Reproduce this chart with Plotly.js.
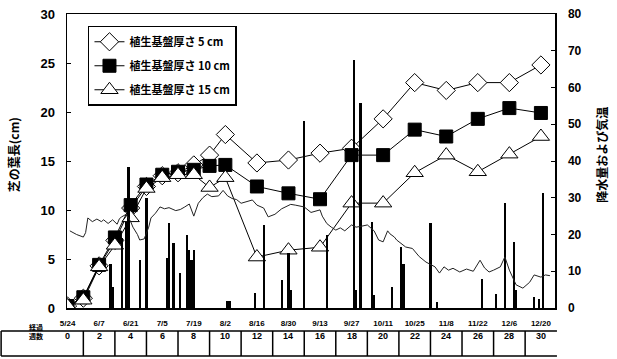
<!DOCTYPE html>
<html>
<head>
<meta charset="utf-8">
<script src="https://cdn.plot.ly/plotly-3.0.1.min.js"></script>
<style>html,body{margin:0;padding:0;background:#fff;}#chart{width:617px;height:359px;}</style>
</head>
<body>
<div id="chart"></div>
<script>
// ---- data ----
const tickDates = ['2001-05-24','2001-06-07','2001-06-21','2001-07-05','2001-07-19','2001-08-02','2001-08-16','2001-08-30','2001-09-13','2001-09-27','2001-10-11','2001-10-25','2001-11-08','2001-11-22','2001-12-06','2001-12-20'];
const tickText = ['5/24','6/7','6/21','7/5','7/19','8/2','8/16','8/30','9/13','9/27','10/11','10/25','11/8','11/22','12/6','12/20'];
const weekText = ['0','2','4','6','8','10','12','14','16','18','20','22','24','26','28','30'];
const tableHeader = '経過<br>週数';

const measureDates = ['2001-05-24','2001-05-31','2001-06-07','2001-06-14','2001-06-21','2001-06-28','2001-07-05','2001-07-12','2001-07-19','2001-07-26','2001-08-02','2001-08-16','2001-08-30','2001-09-13','2001-09-27','2001-10-11','2001-10-25','2001-11-08','2001-11-22','2001-12-06','2001-12-20'];
const len5cm  = [0.2,1.0,4.3,6.9,10.2,12.4,13.5,13.8,14.6,15.6,17.7,14.8,15.1,15.8,16.3,19.3,23.0,22.2,23.0,23.0,24.8];
const len10cm = [0.2,1.1,4.4,7.2,10.5,12.6,13.6,13.9,14.1,14.5,14.6,12.4,11.7,11.1,15.6,15.6,18.2,17.5,19.3,20.4,19.9];
const len15cm = [0.2,0.8,4.2,6.4,9.2,12.2,13.3,13.6,13.6,12.3,13.3,5.2,5.9,6.2,10.7,10.7,13.8,15.6,13.9,15.7,17.5];
const seriesNames = ['植生基盤厚さ 5 cm','植生基盤厚さ 10 cm','植生基盤厚さ 15 cm'];

const tempDates = ['2001-05-25','2001-05-28','2001-05-31','2001-06-01','2001-06-02','2001-06-04','2001-06-06','2001-06-08','2001-06-09','2001-06-11','2001-06-13','2001-06-15','2001-06-16','2001-06-17','2001-06-19','2001-06-21','2001-06-22','2001-06-24','2001-06-25','2001-06-27','2001-06-29','2001-06-30','2001-07-02','2001-07-04','2001-07-06','2001-07-08','2001-07-11','2001-07-13','2001-07-15','2001-07-17','2001-07-19','2001-07-21','2001-07-23','2001-07-25','2001-07-27','2001-07-30','2001-08-01','2001-08-03','2001-08-05','2001-08-07','2001-08-09','2001-08-11','2001-08-14','2001-08-16','2001-08-19','2001-08-21','2001-08-24','2001-08-27','2001-08-29','2001-08-31','2001-09-02','2001-09-06','2001-09-09','2001-09-13','2001-09-14','2001-09-16','2001-09-18','2001-09-20','2001-09-22','2001-09-24','2001-09-27','2001-09-29','2001-10-01','2001-10-04','2001-10-07','2001-10-09','2001-10-11','2001-10-13','2001-10-14','2001-10-16','2001-10-17','2001-10-19','2001-10-21','2001-10-24','2001-10-27','2001-10-30','2001-11-03','2001-11-05','2001-11-07','2001-11-09','2001-11-11','2001-11-14','2001-11-17','2001-11-20','2001-11-23','2001-11-25','2001-11-27','2001-11-29','2001-12-02','2001-12-04','2001-12-06','2001-12-09','2001-12-12','2001-12-15','2001-12-17','2001-12-20','2001-12-22','2001-12-24'];
const tempValues = [21.0,20.0,19.3,20.5,24.5,23.5,24.2,23.5,24.0,23.0,24.0,22.8,24.3,24.8,25.5,23.5,22.0,20.0,18.5,18.8,22.0,24.5,25.8,27.5,27.0,27.3,26.5,26.8,27.5,28.3,25.0,28.5,30.0,31.0,30.3,30.5,32.0,30.5,29.8,29.5,28.5,28.8,29.4,28.0,27.2,24.8,25.5,27.0,27.5,28.2,28.0,27.5,26.0,26.7,25.0,23.0,22.0,21.2,21.8,21.0,22.6,22.0,22.2,22.6,21.0,18.5,18.0,21.0,20.2,19.3,18.5,17.5,16.6,16.2,14.0,12.5,11.2,9.5,11.2,10.3,10.8,9.8,10.6,10.0,13.0,10.9,9.8,10.3,11.2,13.9,10.3,6.3,5.4,7.0,9.0,8.4,9.0,8.8];

const rainDates = ['2001-06-12','2001-06-13','2001-06-17','2001-06-19','2001-06-20','2001-06-25','2001-06-28','2001-07-07','2001-07-08','2001-07-10','2001-07-13','2001-07-16','2001-07-17','2001-07-18','2001-07-19','2001-08-03','2001-08-04','2001-08-15','2001-08-19','2001-08-27','2001-08-30','2001-08-31','2001-09-06','2001-09-16','2001-09-28','2001-09-29','2001-10-01','2001-10-06','2001-10-07','2001-10-15','2001-10-19','2001-10-20','2001-11-01','2001-11-04','2001-11-24','2001-11-30','2001-12-04','2001-12-08','2001-12-09','2001-12-17','2001-12-19','2001-12-21'];
const rainValues = [12.0,5.7,19.0,23.4,38.4,13.0,30.0,13.6,23.0,17.7,9.5,19.9,15.8,13.0,15.8,2.0,2.0,4.0,22.6,7.6,15.0,5.0,51.0,20.0,67.5,5.0,55.8,23.4,3.5,5.7,16.6,12.0,23.0,1.5,7.8,3.7,28.7,18.0,5.0,3.0,2.5,31.3];

const leftTitle = '芝の葉長(cm)';
const rightTitle = '降水量および気温';

// ---- style ----
const FONT = 'Liberation Sans, Arial, Noto Sans CJK JP, sans-serif';
const JFONT = 'Noto Sans CJK JP, sans-serif';
const DAY = 86400000;

const traces = [
  {type:'bar', x:rainDates, y:rainValues, yaxis:'y2', width:DAY*1.0,
   marker:{color:'#000', line:{width:0}}, showlegend:false, hoverinfo:'skip'},
  {type:'scatter', mode:'lines', x:tempDates, y:tempValues, yaxis:'y2',
   line:{color:'#222', width:1}, showlegend:false, hoverinfo:'skip'},
  {type:'scatter', mode:'lines+markers', name:seriesNames[0], x:measureDates, y:len5cm, legendgroup:'a',
   line:{color:'#000', width:1}, marker:{symbol:'diamond', size:14, color:'#fff', line:{color:'#000', width:1}}},
  {type:'scatter', mode:'lines+markers', name:seriesNames[1], x:measureDates, y:len10cm, legendgroup:'b',
   line:{color:'#000', width:1}, marker:{symbol:'square', size:13, color:'#000', line:{color:'#000', width:1}}},
  {type:'scatter', mode:'lines+markers', name:seriesNames[2], x:measureDates, y:len15cm, legendgroup:'c',
   line:{color:'#000', width:1}, marker:{symbol:'triangle-up', size:15, color:'#fff', line:{color:'#000', width:1}}}
];

// table shapes & labels
const shapes = [];
const annotations = [];
const tableTop = -0.078, tableBot = -0.163;
const leftEdge = -0.135;
const lastBoundary = new Date(tickDates[tickDates.length-1]).getTime() + 7*DAY;
shapes.push({type:'line', xref:'paper', yref:'paper', x0:leftEdge, x1:leftEdge, y0:tableTop, y1:tableBot, line:{color:'#000', width:1.5}});
tickDates.forEach((d,i)=>{
  const b = new Date(d).getTime() - 7*DAY;
  shapes.push({type:'line', xref:'x', yref:'paper', x0:b, x1:b, y0:tableTop, y1:tableBot, line:{color:'#000', width:1.5}});
  annotations.push({xref:'x', yref:'paper', x:d, y:(tableTop+tableBot)/2, text:weekText[i], showarrow:false,
    font:{family:FONT, size:9, color:'#000', weight:'bold'}});
});
shapes.push({type:'line', xref:'x', yref:'paper', x0:lastBoundary, x1:lastBoundary, y0:tableTop, y1:tableBot, line:{color:'#000', width:1.5}});
[tableTop, tableBot].forEach(yy=>{
  shapes.push({type:'line', xref:'paper', yref:'paper', x0:leftEdge, y0:yy, x1:1.004, y1:yy, line:{color:'#000', width:1.5}});
});
annotations.push({xref:'paper', yref:'paper', x:-0.082, y:(tableTop+tableBot)/2, text:tableHeader, showarrow:false,
  font:{family:JFONT, size:7, color:'#000', weight:'bold'}});
annotations.push({xref:'paper', yref:'paper', x:-0.132, y:0.52, text:leftTitle, textangle:-90, showarrow:false,
  font:{family:JFONT, size:12, color:'#000', weight:'bold'}});
annotations.push({xref:'paper', yref:'paper', x:1.115, y:0.52, text:rightTitle, textangle:-90, showarrow:false,
  font:{family:JFONT, size:12, color:'#000', weight:'bold'}});

const layout = {
  width:617, height:359,
  margin:{l:67, r:62, t:14, b:51},
  paper_bgcolor:'#fff', plot_bgcolor:'#fff',
  showlegend:true,
  bargap:0,
  xaxis:{type:'date', range:['2001-05-23 18:00','2001-12-26 06:00'], tickvals:tickDates, ticktext:tickText,
    ticks:'', showgrid:false, zeroline:false, showline:true, mirror:true, linecolor:'#000', linewidth:1.5,
    tickfont:{family:FONT, size:8, color:'#000', weight:'bold'}, ticklabelstandoff:7},
  yaxis:{range:[0,30], dtick:5, ticks:'inside', ticklen:4, tickcolor:'#000', showgrid:false, zeroline:false,
    showline:true, linecolor:'#000', linewidth:1.5,
    tickfont:{family:FONT, size:13, color:'#000', weight:'bold'}, ticklabelstandoff:8},
  yaxis2:{range:[0,80], dtick:10, overlaying:'y', side:'right', ticks:'inside', ticklen:4, tickcolor:'#000',
    showgrid:false, zeroline:false, showline:true, linecolor:'#000', linewidth:1.5,
    tickfont:{family:FONT, size:12, color:'#000', weight:'bold'}, ticklabelstandoff:9},
  legend:{x:0.043, y:0.96, xanchor:'left', yanchor:'top', bgcolor:'#fff', bordercolor:'#000', borderwidth:1.5,
    font:{family:JFONT, size:11, color:'#000', weight:'bold'}, tracegroupgap:5, entrywidth:160},
  shapes:shapes,
  annotations:annotations
};

Plotly.newPlot('chart', traces, layout, {staticPlot:true, displayModeBar:false});
</script>
</body>
</html>
